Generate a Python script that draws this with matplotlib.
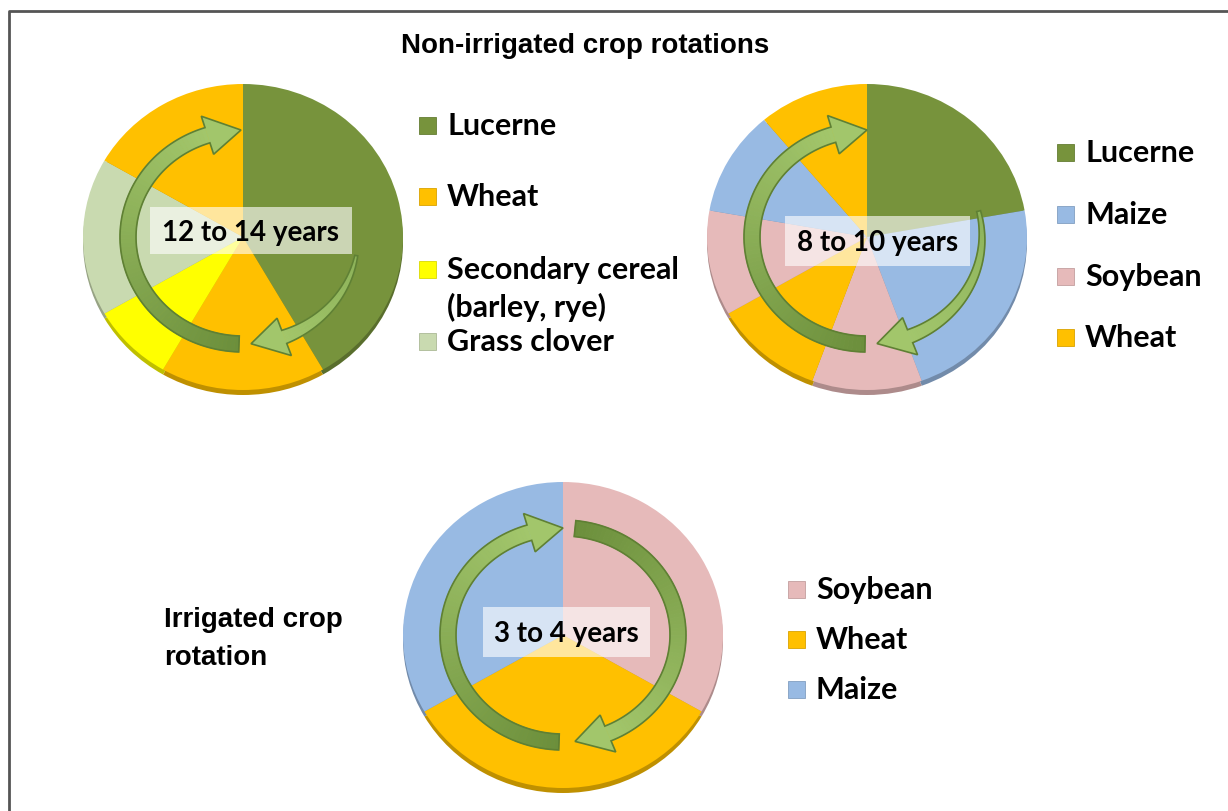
import numpy as np
import matplotlib
matplotlib.use("Agg")
import matplotlib.pyplot as plt
from matplotlib.patches import Polygon, Rectangle
from matplotlib.transforms import Affine2D
from matplotlib.colors import to_rgb

W, H = 1228, 812

# crop colours
LUCERNE = "#77933C"
WHEAT = "#FFC000"
CEREAL = "#FFFF00"
GRASS = "#C9DAB0"
MAIZE = "#98BAE3"
SOY = "#E6BABA"

# rotation 1: non-irrigated, 12 to 14 years (clockwise from 12 o'clock)
rot1_crops = ["Lucerne", "Wheat", "Secondary cereal", "Grass clover", "Wheat"]
rot1_years = [5, 2, 1, 2, 2]
rot1_colors = [LUCERNE, WHEAT, CEREAL, GRASS, WHEAT]
rot1_label = "12 to 14 years"
leg1_labels = ["Lucerne", "Wheat", "Secondary cereal\n(barley, rye)", "Grass clover"]
leg1_colors = [LUCERNE, WHEAT, CEREAL, GRASS]

# rotation 2: non-irrigated, 8 to 10 years
rot2_crops = ["Lucerne", "Maize", "Soybean", "Wheat", "Soybean", "Maize", "Wheat"]
rot2_years = [2, 2, 1, 1, 1, 1, 1]
rot2_colors = [LUCERNE, MAIZE, SOY, WHEAT, SOY, MAIZE, WHEAT]
rot2_label = "8 to 10 years"
leg2_labels = ["Lucerne", "Maize", "Soybean", "Wheat"]
leg2_colors = [LUCERNE, MAIZE, SOY, WHEAT]

# rotation 3: irrigated, 3 to 4 years
rot3_crops = ["Soybean", "Wheat", "Maize"]
rot3_years = [1, 1, 1]
rot3_colors = [SOY, WHEAT, MAIZE]
rot3_label = "3 to 4 years"
leg3_labels = ["Soybean", "Wheat", "Maize"]
leg3_colors = [SOY, WHEAT, MAIZE]

LABEL_FONT = ["Lato", "DejaVu Sans"]
TITLE_FONT = ["Liberation Sans Narrow", "Liberation Sans", "DejaVu Sans"]


def darker(c, f=0.75):
    r, g, b = to_rgb(c)
    return (r * f, g * f, b * f)


def mix(c1, c2, t):
    a, b = np.array(to_rgb(c1)), np.array(to_rgb(c2))
    return tuple(a + (b - a) * t)


def draw_pie(ax, values, colors, cx, cy, rx=160, ry=153, depth=5):
    # side of the disc, then the top
    for dy, cols, z in [(-depth, [darker(c) for c in colors], 1), (0, colors, 2)]:
        wedges, _ = ax.pie(values, colors=cols, startangle=90, counterclock=False,
                           radius=1, center=(0, 0), wedgeprops=dict(linewidth=0))
        tr = Affine2D().scale(rx, ry).translate(cx, cy + dy) + ax.transData
        for w in wedges:
            w.set_transform(tr)
            w.set_zorder(z)


def draw_arrow(ax, cx, cy, t_tail, t_tip, w_tail=16, w_body=16, head_len=17,
               head_w=40, rx=115, ry=107, c0="#6C8F3C", c1="#A2C66B"):
    sgn = 1 if t_tip > t_tail else -1
    t_base = t_tip - sgn * head_len
    n = 80
    ts = np.linspace(t_tail, t_base, n)
    ws = np.linspace(w_tail, w_body, n)

    def pt(t, off):
        r = np.radians(t)
        return (cx + (rx + off) * np.cos(r), cy + (ry + off) * np.sin(r))

    for i in range(n - 1):
        quad = [pt(ts[i], -ws[i] / 2), pt(ts[i + 1], -ws[i + 1] / 2),
                pt(ts[i + 1], ws[i + 1] / 2), pt(ts[i], ws[i] / 2)]
        col = mix(c0, c1, i / (n - 2))
        ax.add_patch(Polygon(quad, closed=True, fc=col, ec=col, lw=0.6, zorder=4))
    head = [pt(t_base, -head_w / 2), pt(t_tip, 0), pt(t_base, head_w / 2)]
    ax.add_patch(Polygon(head, closed=True, fc=c1, ec="none", zorder=4))
    outline = ([pt(t, -w / 2) for t, w in zip(ts, ws)] + head[:2]
               + [pt(t_base, head_w / 2)]
               + [pt(t, w / 2) for t, w in zip(ts[::-1], ws[::-1])])
    ax.add_patch(Polygon(outline, closed=True, fc="none", ec="#5F8034", lw=1.2, zorder=5))


def center_label(ax, text, x0, x1, y0, y1):
    ax.add_patch(Rectangle((x0, H - y1), x1 - x0, y1 - y0, fc="white", alpha=0.62,
                           ec="none", zorder=6))
    ax.text((x0 + x1) / 2, H - (y0 + y1) / 2 - 1, text, ha="center", va="center",
            fontsize=20, fontweight="bold", family=LABEL_FONT, zorder=7)


def legend(ax, labels, colors, x, ys):
    for lab, col, y in zip(labels, colors, ys):
        ax.add_patch(Rectangle((x, H - y - 8.5), 17, 17, fc=col, ec=darker(col, 0.85),
                               lw=0.6, zorder=3))
        lines = lab.split("\n")
        for k, line in enumerate(lines):
            ax.text(x + 28, H - y - k * 37, line, ha="left", va="center",
                    fontsize=22, fontweight="bold", family=LABEL_FONT)


def main():
    fig = plt.figure(figsize=(W / 100, H / 100), dpi=100)
    ax = fig.add_axes([0, 0, 1, 1])

    # pie 1
    draw_pie(ax, rot1_years, rot1_colors, 243, H - 238)
    draw_arrow(ax, 243, H - 238, 268, 91)
    draw_arrow(ax, 243, H - 238, -10, -86, w_tail=3, w_body=14, c0="#8DB35A")
    center_label(ax, rot1_label, 150, 352, 208, 255)
    legend(ax, leg1_labels, leg1_colors, 419, [126, 197, 270, 342])

    # pie 2
    draw_pie(ax, rot2_years, rot2_colors, 867, H - 238)
    draw_arrow(ax, 867, H - 238, 269, 90)
    draw_arrow(ax, 867, H - 238, 14, -85, w_tail=4, w_body=14, c0="#8DB35A")
    center_label(ax, rot2_label, 785, 970, 217, 267)
    legend(ax, leg2_labels, leg2_colors, 1057, [153, 215, 277, 338])

    # pie 3
    draw_pie(ax, rot3_years, rot3_colors, 563, H - 636)
    draw_arrow(ax, 563, H - 636, 268, 90)
    draw_arrow(ax, 563, H - 636, 84, -84)
    center_label(ax, rot3_label, 483, 650, 608, 658)
    legend(ax, leg3_labels, leg3_colors, 788, [590, 640, 690])

    # titles
    ax.text(585, H - 53, "Non-irrigated crop rotations", ha="center", va="baseline",
            fontsize=20, fontweight="bold", family=TITLE_FONT)
    ax.text(164, H - 627, "Irrigated crop", ha="left", va="baseline",
            fontsize=20, fontweight="bold", family=TITLE_FONT)
    ax.text(164, H - 665, "rotation", ha="left", va="baseline",
            fontsize=20, fontweight="bold", family=TITLE_FONT)

    # frame
    ax.plot([9, 9, W], [0, H - 12, H - 12], color="#555555", lw=2, zorder=8)

    ax.set_xlim(0, W)
    ax.set_ylim(0, H)
    ax.set_aspect("auto")
    ax.axis("off")
    fig.savefig("out.png", dpi=100)
    plt.close(fig)


if __name__ == "__main__":
    main()
